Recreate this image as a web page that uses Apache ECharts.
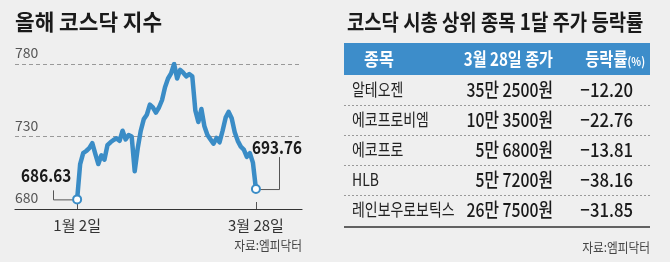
<!DOCTYPE html>
<html><head><meta charset="utf-8">
<script src="https://cdn.jsdelivr.net/npm/echarts@6/dist/echarts.min.js"></script>
<style>html,body{margin:0;padding:0;background:#efefef}#c{width:670px;height:262px}</style>
</head><body><div id="c"></div>
<script>
// KOSDAQ index, trading days 2024-01-02 .. 2024-03-28
const indexValues = [
  686.63, 711, 718.5, 720, 722, 725.4, 718, 711, 717, 714,
  724, 726, 727.6, 728.8, 727, 734, 728, 731, 730, 706,
  722, 734, 742, 745, 752, 750, 746.5, 750, 755, 764,
  770, 773.5, 780, 770, 776, 774, 771.5, 773, 771.5, 748,
  740, 749, 737, 731, 728, 725, 729, 726, 734, 743,
  747, 742.6, 733, 727, 723, 721, 716, 718.5, 712, 693.76
];
const xTickIdx = [0, 59];
const xTickLabels = ['1월 2일', '3월 28일'];
const yTicks = [680, 730, 780];
const chartTitle = '올해 코스닥 지수';
const tableTitle = '코스닥 시총 상위 종목 1달 주가 등락률';
const tableHeaders = ['종목', '3월 28일 종가', '등락률'];
const stockNames = ['알테오젠', '에코프로비엠', '에코프로', 'HLB', '레인보우로보틱스'];
const closePrices = ['35만 2500원', '10만 3500원', '5만 6800원', '5만 7200원', '26만 7500원'];
const changeRates = [-12.20, -22.76, -13.81, -38.16, -31.85];
const sourceText = '자료:엠피닥터';

const FONT = "'Noto Sans CJK KR', 'Noto Sans', sans-serif";
const BLUE = '#3a8cc6';
const last = indexValues.length - 1;
const chart = echarts.init(document.getElementById('c'), null, {renderer: 'canvas'});

function txt(x, y, text, opts) {
  return {
    type: 'text', x: x, y: y, scaleX: opts.scaleX || 1, z: 10,
    style: {text: text, font: opts.font, fill: opts.fill || '#222', align: opts.align || 'left', verticalAlign: 'middle'}
  };
}

function buildTable() {
  const g = [];
  g.push(txt(15, 22, chartTitle, {font: 'bold 22px ' + FONT, fill: '#1a1a1a', scaleX: 0.97}));
  g.push(txt(347, 22, tableTitle, {font: 'bold 22px ' + FONT, fill: '#1a1a1a', scaleX: 0.855}));
  g.push({type: 'rect', shape: {x: 344, y: 43, width: 306, height: 32}, style: {fill: '#3d8dca'}});
  g.push(txt(379, 59, tableHeaders[0], {font: 'bold 18px ' + FONT, fill: '#fff', align: 'center', scaleX: 0.9}));
  g.push(txt(553, 59, tableHeaders[1], {font: 'bold 18px ' + FONT, fill: '#fff', align: 'right', scaleX: 0.84}));
  g.push({type: 'text', x: 645, y: 59, scaleX: 0.85, z: 10,
    style: {text: '{a|' + tableHeaders[2] + '}{b|(%)}', align: 'right', verticalAlign: 'middle',
      rich: {a: {font: 'bold 18px ' + FONT, fill: '#fff'}, b: {font: 'bold 12px ' + FONT, fill: '#fff', padding: [4, 0, 0, 0]}}}});
  for (let i = 0; i < stockNames.length; i++) {
    const y = 90 + 30 * i;
    g.push(txt(352, y, stockNames[i], {font: '17px ' + FONT, fill: '#222', scaleX: 0.82}));
    g.push(txt(553, y, closePrices[i], {font: '500 19px ' + FONT, fill: '#1a1a1a', align: 'right', scaleX: 0.83}));
    g.push(txt(633, y, '\u2212' + Math.abs(changeRates[i]).toFixed(2), {font: '500 19px ' + FONT, fill: '#1a1a1a', align: 'right', scaleX: 0.88}));
    if (i < stockNames.length - 1) {
      g.push({type: 'line', shape: {x1: 344, y1: 105.5 + 30 * i, x2: 650, y2: 105.5 + 30 * i}, style: {stroke: '#999', lineWidth: 1, lineDash: [2, 2]}});
    }
  }
  g.push({type: 'line', shape: {x1: 344, y1: 227, x2: 650, y2: 227}, style: {stroke: '#333', lineWidth: 1.5}});
  g.push(txt(650, 247, sourceText, {font: '13px ' + FONT, fill: '#444', align: 'right', scaleX: 0.9}));
  g.push(txt(302, 245, sourceText, {font: '13px ' + FONT, fill: '#444', align: 'right', scaleX: 0.9}));
  return g;
}

chart.setOption({
  animation: false,
  backgroundColor: '#efefef',
  textStyle: {fontFamily: FONT},
  grid: {left: 15, right: 368, top: 64, bottom: 53},
  xAxis: {
    type: 'value', min: -20.5, max: 74.2,
    axisLine: {show: true, onZero: false, lineStyle: {color: '#333', width: 1.2}},
    axisTick: {show: true, customValues: xTickIdx, inside: true, length: 7, lineStyle: {color: '#555'}},
    axisLabel: {customValues: xTickIdx, margin: 9, fontSize: 15, color: '#333', fontFamily: FONT,
      formatter: v => xTickLabels[xTickIdx.indexOf(Math.round(v))] || ''},
    splitLine: {show: false}
  },
  yAxis: {
    type: 'value', min: yTicks[0], max: yTicks[yTicks.length - 1], interval: 50,
    axisLine: {show: false}, axisTick: {show: false},
    axisLabel: {inside: true, margin: 0, verticalAlign: 'bottom', padding: [0, 0, 4, 0], color: '#555', fontSize: 14, fontFamily: FONT},
    splitLine: {lineStyle: {type: [4, 3], color: '#999', width: 1}}
  },
  series: [{
    type: 'line',
    data: indexValues.map((v, i) => [i, v]),
    lineStyle: {color: BLUE, width: 4.5, join: 'round'},
    symbol: 'circle', showAllSymbol: true,
    symbolSize: (v, p) => (p.dataIndex === 0 || p.dataIndex === last) ? 8 : 0,
    itemStyle: {color: '#fff', borderColor: BLUE, borderWidth: 2},
    z: 5
  }],
  graphic: buildTable()
});

const p0 = chart.convertToPixel({gridIndex: 0}, [0, indexValues[0]]);
const p1 = chart.convertToPixel({gridIndex: 0}, [last, indexValues[last]]);
const extra = buildTable().concat([
  {type: 'polyline', z: 3, shape: {points: [[p0[0] - 4, p0[1] + 0.5], [53.5, p0[1] + 0.5], [53.5, p0[1] - 9]]}, style: {stroke: '#555', lineWidth: 1, fill: null}},
  {type: 'polyline', z: 3, shape: {points: [[p1[0] + 4, p1[1] + 0.5], [279.5, p1[1] + 0.5], [279.5, p1[1] - 32]]}, style: {stroke: '#555', lineWidth: 1, fill: null}},
  txt(p0[0] - 31, p0[1] - 24, indexValues[0].toFixed(2), {font: 'bold 18px ' + FONT, fill: '#1a1a1a', align: 'center', scaleX: 0.85}),
  txt(p1[0] + 21, p1[1] - 42, indexValues[last].toFixed(2), {font: 'bold 18px ' + FONT, fill: '#1a1a1a', align: 'center', scaleX: 0.85})
]);
chart.setOption({graphic: extra}, {replaceMerge: ['graphic']});
</script>
</body></html>
